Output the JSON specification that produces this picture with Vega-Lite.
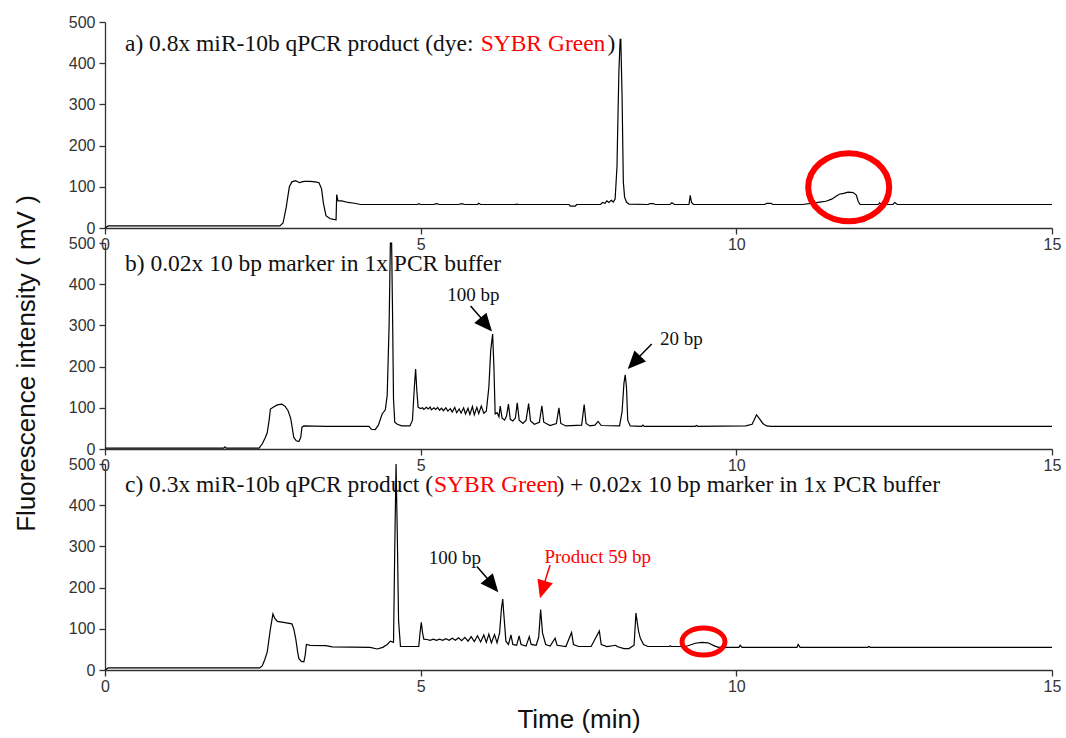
{
  "$schema": "https://vega.github.io/schema/vega-lite/v6.json",
  "padding": {"left": 13, "top": 14, "right": 5, "bottom": 5},
  "background": "white",
  "config": {
    "view": {"stroke": null},
    "axis": {"domainColor": "#333", "tickColor": "#333", "labelColor": "#333", "labelFont": "Liberation Sans", "labelFontSize": 16, "tickSize": 6, "grid": false, "titleFont": "Liberation Sans", "titleFontSize": 26, "titleFontWeight": "normal", "titleColor": "#111", "labelPadding": 4, "domainWidth": 1.3, "tickWidth": 1.3}
  },
  "spacing": 15,
  "bounds": "flush",
  "datasets": {
    "a": [
      {"t":0,"v":0},{"t":0.05,"v":5},{"t":2.77,"v":5},{"t":2.82,"v":12},{"t":2.87,"v":50},{"t":2.92,"v":100},{"t":2.96,"v":112},{"t":3.02,"v":115},{"t":3.08,"v":110},{"t":3.15,"v":113},{"t":3.25,"v":113},{"t":3.33,"v":112},{"t":3.39,"v":110},{"t":3.43,"v":95},{"t":3.46,"v":60},{"t":3.5,"v":30},{"t":3.56,"v":23},{"t":3.62,"v":21},{"t":3.66,"v":20},{"t":3.67,"v":81},{"t":3.69,"v":66},{"t":3.75,"v":66},{"t":3.85,"v":62},{"t":3.95,"v":60},{"t":4.05,"v":57},{"t":4.95,"v":57},{"t":4.97,"v":59},{"t":5.0,"v":57},{"t":5.2,"v":57},{"t":5.25,"v":59},{"t":5.3,"v":57},{"t":5.6,"v":57},{"t":5.65,"v":59},{"t":5.7,"v":57},{"t":5.9,"v":57},{"t":5.92,"v":60},{"t":5.95,"v":57},{"t":6.5,"v":57},{"t":6.52,"v":58},{"t":6.55,"v":57},{"t":7.35,"v":57},{"t":7.37,"v":53},{"t":7.45,"v":53},{"t":7.47,"v":57},{"t":7.85,"v":57},{"t":7.88,"v":62},{"t":7.92,"v":60},{"t":7.95,"v":66},{"t":7.98,"v":62},{"t":8.02,"v":67},{"t":8.05,"v":63},{"t":8.08,"v":70},{"t":8.11,"v":150},{"t":8.12,"v":233},{"t":8.14,"v":380},{"t":8.16,"v":458},{"t":8.17,"v":458},{"t":8.19,"v":322},{"t":8.21,"v":112},{"t":8.23,"v":75},{"t":8.26,"v":63},{"t":8.3,"v":58},{"t":8.6,"v":57},{"t":8.63,"v":59},{"t":8.68,"v":59},{"t":8.72,"v":57},{"t":8.95,"v":57},{"t":8.98,"v":61},{"t":9.02,"v":57},{"t":9.25,"v":57},{"t":9.27,"v":79},{"t":9.29,"v":62},{"t":9.32,"v":57},{"t":10.45,"v":57},{"t":10.48,"v":60},{"t":10.55,"v":60},{"t":10.58,"v":57},{"t":11.05,"v":57},{"t":11.15,"v":59},{"t":11.32,"v":63},{"t":11.42,"v":65},{"t":11.51,"v":70},{"t":11.58,"v":77},{"t":11.63,"v":82},{"t":11.7,"v":84},{"t":11.77,"v":87},{"t":11.85,"v":86},{"t":11.9,"v":80},{"t":11.93,"v":65},{"t":11.96,"v":57},{"t":12.25,"v":57},{"t":12.27,"v":61},{"t":12.3,"v":57},{"t":12.48,"v":57},{"t":12.51,"v":62},{"t":12.55,"v":57},{"t":15,"v":57}
    ],
    "b": [
      {"t":0,"v":2},{"t":1.88,"v":2},{"t":1.9,"v":5},{"t":1.92,"v":2},{"t":2.44,"v":2},{"t":2.49,"v":12},{"t":2.54,"v":28},{"t":2.57,"v":40},{"t":2.6,"v":70},{"t":2.62,"v":97},{"t":2.67,"v":102},{"t":2.73,"v":107},{"t":2.8,"v":109},{"t":2.85,"v":104},{"t":2.9,"v":93},{"t":2.94,"v":75},{"t":2.96,"v":57},{"t":2.99,"v":28},{"t":3.03,"v":20},{"t":3.07,"v":18},{"t":3.1,"v":28},{"t":3.12,"v":53},{"t":3.15,"v":56},{"t":3.5,"v":55},{"t":4.18,"v":55},{"t":4.22,"v":48},{"t":4.28,"v":47},{"t":4.33,"v":58},{"t":4.39,"v":85},{"t":4.44,"v":95},{"t":4.47,"v":130},{"t":4.5,"v":300},{"t":4.52,"v":500},{"t":4.54,"v":500},{"t":4.555,"v":324},{"t":4.57,"v":120},{"t":4.59,"v":65},{"t":4.63,"v":60},{"t":4.7,"v":56},{"t":4.83,"v":56},{"t":4.87,"v":70},{"t":4.9,"v":150},{"t":4.92,"v":194},{"t":4.94,"v":140},{"t":4.96,"v":101},{"t":5.0,"v":98},{"t":5.03,"v":100},{"t":5.05,"v":96},{"t":5.09,"v":101},{"t":5.12,"v":97},{"t":5.15,"v":102},{"t":5.17,"v":95},{"t":5.21,"v":100},{"t":5.24,"v":96},{"t":5.27,"v":101},{"t":5.3,"v":94},{"t":5.33,"v":99},{"t":5.36,"v":93},{"t":5.4,"v":100},{"t":5.43,"v":92},{"t":5.47,"v":98},{"t":5.5,"v":90},{"t":5.54,"v":101},{"t":5.57,"v":88},{"t":5.61,"v":97},{"t":5.64,"v":87},{"t":5.68,"v":100},{"t":5.71,"v":85},{"t":5.75,"v":99},{"t":5.78,"v":84},{"t":5.82,"v":103},{"t":5.85,"v":83},{"t":5.89,"v":101},{"t":5.92,"v":86},{"t":5.96,"v":104},{"t":6.0,"v":87},{"t":6.04,"v":92},{"t":6.08,"v":150},{"t":6.11,"v":240},{"t":6.14,"v":279},{"t":6.16,"v":200},{"t":6.18,"v":85},{"t":6.21,"v":88},{"t":6.24,"v":78},{"t":6.26,"v":104},{"t":6.29,"v":75},{"t":6.33,"v":70},{"t":6.36,"v":80},{"t":6.39,"v":109},{"t":6.42,"v":72},{"t":6.46,"v":68},{"t":6.5,"v":75},{"t":6.53,"v":112},{"t":6.56,"v":70},{"t":6.62,"v":62},{"t":6.67,"v":70},{"t":6.71,"v":110},{"t":6.74,"v":68},{"t":6.8,"v":60},{"t":6.88,"v":65},{"t":6.92,"v":105},{"t":6.95,"v":65},{"t":7.05,"v":57},{"t":7.15,"v":62},{"t":7.19,"v":100},{"t":7.22,"v":62},{"t":7.3,"v":56},{"t":7.55,"v":58},{"t":7.59,"v":108},{"t":7.62,"v":62},{"t":7.68,"v":56},{"t":7.76,"v":58},{"t":7.81,"v":67},{"t":7.86,"v":57},{"t":8.15,"v":56},{"t":8.19,"v":90},{"t":8.22,"v":160},{"t":8.24,"v":180},{"t":8.26,"v":150},{"t":8.28,"v":70},{"t":8.32,"v":56},{"t":8.5,"v":55},{"t":8.52,"v":58},{"t":8.54,"v":55},{"t":9.35,"v":55},{"t":9.37,"v":57},{"t":9.39,"v":55},{"t":10.15,"v":56},{"t":10.25,"v":60},{"t":10.32,"v":83},{"t":10.36,"v":75},{"t":10.42,"v":62},{"t":10.48,"v":56},{"t":10.55,"v":55},{"t":15,"v":55}
    ],
    "c": [
      {"t":0,"v":0},{"t":0.05,"v":5},{"t":2.45,"v":5},{"t":2.49,"v":10},{"t":2.53,"v":25},{"t":2.57,"v":44},{"t":2.62,"v":100},{"t":2.66,"v":136},{"t":2.69,"v":125},{"t":2.73,"v":118},{"t":2.85,"v":115},{"t":2.96,"v":112},{"t":2.99,"v":100},{"t":3.02,"v":77},{"t":3.05,"v":45},{"t":3.07,"v":28},{"t":3.11,"v":21},{"t":3.15,"v":20},{"t":3.17,"v":35},{"t":3.19,"v":62},{"t":3.25,"v":60},{"t":3.5,"v":59},{"t":3.6,"v":56},{"t":4.2,"v":55},{"t":4.31,"v":51},{"t":4.4,"v":55},{"t":4.47,"v":62},{"t":4.52,"v":70},{"t":4.57,"v":67},{"t":4.59,"v":300},{"t":4.61,"v":500},{"t":4.63,"v":328},{"t":4.65,"v":120},{"t":4.68,"v":57},{"t":4.97,"v":57},{"t":4.99,"v":90},{"t":5.01,"v":116},{"t":5.03,"v":90},{"t":5.05,"v":75},{"t":5.1,"v":74},{"t":5.15,"v":72},{"t":5.2,"v":75},{"t":5.25,"v":72},{"t":5.3,"v":75},{"t":5.35,"v":72},{"t":5.4,"v":76},{"t":5.45,"v":72},{"t":5.5,"v":77},{"t":5.55,"v":72},{"t":5.6,"v":78},{"t":5.65,"v":71},{"t":5.7,"v":79},{"t":5.75,"v":70},{"t":5.8,"v":81},{"t":5.85,"v":69},{"t":5.9,"v":83},{"t":5.95,"v":68},{"t":6.0,"v":85},{"t":6.04,"v":67},{"t":6.08,"v":87},{"t":6.12,"v":66},{"t":6.17,"v":86},{"t":6.21,"v":66},{"t":6.25,"v":90},{"t":6.28,"v":150},{"t":6.3,"v":172},{"t":6.32,"v":130},{"t":6.35,"v":70},{"t":6.39,"v":62},{"t":6.43,"v":85},{"t":6.46,"v":62},{"t":6.52,"v":60},{"t":6.56,"v":83},{"t":6.59,"v":62},{"t":6.67,"v":58},{"t":6.72,"v":81},{"t":6.75,"v":62},{"t":6.83,"v":60},{"t":6.87,"v":80},{"t":6.9,"v":147},{"t":6.93,"v":90},{"t":6.98,"v":62},{"t":7.05,"v":58},{"t":7.13,"v":77},{"t":7.16,"v":60},{"t":7.3,"v":57},{"t":7.39,"v":91},{"t":7.42,"v":62},{"t":7.5,"v":57},{"t":7.7,"v":57},{"t":7.83,"v":95},{"t":7.86,"v":62},{"t":7.95,"v":57},{"t":8.09,"v":60},{"t":8.11,"v":57},{"t":8.22,"v":52},{"t":8.3,"v":52},{"t":8.38,"v":60},{"t":8.41,"v":138},{"t":8.45,"v":95},{"t":8.48,"v":77},{"t":8.53,"v":62},{"t":8.6,"v":57},{"t":8.94,"v":57},{"t":8.95,"v":59},{"t":8.97,"v":57},{"t":9.2,"v":57},{"t":9.35,"v":65},{"t":9.45,"v":67},{"t":9.55,"v":66},{"t":9.66,"v":58},{"t":9.72,"v":55},{"t":10.04,"v":55},{"t":10.06,"v":60},{"t":10.09,"v":55},{"t":10.96,"v":55},{"t":10.98,"v":62},{"t":11.01,"v":55},{"t":12.08,"v":55},{"t":12.1,"v":57},{"t":12.12,"v":55},{"t":15,"v":55}
    ]
  },
  "vconcat": [
    {
      "width": 947, "height": 206,
      "encoding": {
        "x": {"field": "t", "type": "quantitative", "scale": {"domain": [0, 15], "nice": false}, "axis": {"values": [0, 5, 10, 15], "title": null, "labelFlush": false, "labelPadding": 2}},
        "y": {"field": "v", "type": "quantitative", "scale": {"domain": [0, 500], "nice": false}, "axis": {"values": [0, 100, 200, 300, 400, 500], "title": null}}
      },
      "layer": [
        {"data": {"name": "a"}, "mark": {"type": "line", "color": "#000", "strokeWidth": 1.2, "interpolate": "linear"}},
        {"data": {"values": [{"t": 0.316, "v": 447, "s": "a) 0.8x miR-10b  qPCR product (dye:"}, {"t": 7.96, "v": 447, "s": ")"}]}, "mark": {"type": "text", "align": "left", "baseline": "middle", "font": "Liberation Serif", "fontSize": 23.5, "color": "#111"}, "encoding": {"text": {"field": "s"}}},
        {"data": {"values": [{"t": 5.95, "v": 447, "s": "SYBR Green"}]}, "mark": {"type": "text", "align": "left", "baseline": "middle", "font": "Liberation Serif", "fontSize": 23.5, "color": "#ff0000"}, "encoding": {"text": {"field": "s"}}},
        {"data": {"values": [{"t": 11.78, "v": 99}]}, "mark": {"type": "point", "shape": "M1,0 C1,0.464 0.552,0.84 0,0.84 C-0.552,0.84 -1,0.464 -1,0 C-1,-0.464 -0.552,-0.84 0,-0.84 C0.552,-0.84 1,-0.464 1,0 Z", "size": 6561, "filled": false, "stroke": "#ff0000", "strokeWidth": 6, "opacity": 1}}
      ]
    },
    {
      "width": 947, "height": 206,
      "encoding": {
        "x": {"field": "t", "type": "quantitative", "scale": {"domain": [0, 15], "nice": false}, "axis": {"values": [0, 5, 10, 15], "title": null, "labelFlush": false, "labelPadding": 2}},
        "y": {"field": "v", "type": "quantitative", "scale": {"domain": [0, 500], "nice": false}, "axis": {"values": [0, 100, 200, 300, 400, 500], "title": "Fluorescence intensity ( mV )", "titleY": 120, "titlePadding": 29}}
      },
      "layer": [
        {"data": {"name": "b"}, "mark": {"type": "line", "color": "#000", "strokeWidth": 1.2, "interpolate": "linear"}},
        {"data": {"values": [{"t": 0.316, "v": 450, "s": "b) 0.02x 10 bp marker in 1x PCR buffer"}]}, "mark": {"type": "text", "align": "left", "baseline": "middle", "font": "Liberation Serif", "fontSize": 23.5, "color": "#111"}, "encoding": {"text": {"field": "s"}}},
        {"data": {"values": [{"t": 5.42, "v": 373, "s": "100 bp"}, {"t": 8.79, "v": 267, "s": "20 bp"}]}, "mark": {"type": "text", "align": "left", "baseline": "middle", "font": "Liberation Serif", "fontSize": 19, "color": "#111"}, "encoding": {"text": {"field": "s"}}},
        {"data": {"values": [{"t": 5.79, "v": 347, "t2": 6.1, "v2": 293}, {"t": 8.66, "v": 255, "t2": 8.31, "v2": 200}]}, "mark": {"type": "rule", "color": "#000", "strokeWidth": 1.5}, "encoding": {"x2": {"field": "t2"}, "y2": {"field": "v2"}}},
        {"data": {"values": [{"t": 6.13, "v": 285}]}, "mark": {"type": "point", "shape": "M0,0 L-0.8,-1.8 L0.8,-1.8 Z", "size": 400, "filled": true, "color": "#000", "opacity": 1, "angle": 319.5}},
        {"data": {"values": [{"t": 8.28, "v": 194}]}, "mark": {"type": "point", "shape": "M0,0 L-0.8,-1.8 L0.8,-1.8 Z", "size": 400, "filled": true, "color": "#000", "opacity": 1, "angle": 43.8}}
      ]
    },
    {
      "width": 947, "height": 206,
      "encoding": {
        "x": {"field": "t", "type": "quantitative", "scale": {"domain": [0, 15], "nice": false}, "axis": {"values": [0, 5, 10, 15], "title": "Time (min)", "labelFlush": false, "labelPadding": 2, "titlePadding": 12}},
        "y": {"field": "v", "type": "quantitative", "scale": {"domain": [0, 500], "nice": false}, "axis": {"values": [0, 100, 200, 300, 400, 500], "title": null}}
      },
      "layer": [
        {"data": {"name": "c"}, "mark": {"type": "line", "color": "#000", "strokeWidth": 1.2, "interpolate": "linear"}},
        {"data": {"values": [{"t": 0.316, "v": 450, "s": "c) 0.3x miR-10b  qPCR product ("}, {"t": 7.15, "v": 450, "s": ") + 0.02x 10 bp marker in 1x PCR buffer"}]}, "mark": {"type": "text", "align": "left", "baseline": "middle", "font": "Liberation Serif", "fontSize": 23.5, "color": "#111"}, "encoding": {"text": {"field": "s"}}},
        {"data": {"values": [{"t": 5.21, "v": 450, "s": "SYBR Green"}]}, "mark": {"type": "text", "align": "left", "baseline": "middle", "font": "Liberation Serif", "fontSize": 23.5, "color": "#ff0000"}, "encoding": {"text": {"field": "s"}}},
        {"data": {"values": [{"t": 5.13, "v": 273, "s": "100 bp"}]}, "mark": {"type": "text", "align": "left", "baseline": "middle", "font": "Liberation Serif", "fontSize": 19, "color": "#111"}, "encoding": {"text": {"field": "s"}}},
        {"data": {"values": [{"t": 6.96, "v": 275, "s": "Product 59 bp"}]}, "mark": {"type": "text", "align": "left", "baseline": "middle", "font": "Liberation Serif", "fontSize": 19, "color": "#ff0000"}, "encoding": {"text": {"field": "s"}}},
        {"data": {"values": [{"t": 5.89, "v": 251, "t2": 6.2, "v2": 197}]}, "mark": {"type": "rule", "color": "#000", "strokeWidth": 1.5}, "encoding": {"x2": {"field": "t2"}, "y2": {"field": "v2"}}},
        {"data": {"values": [{"t": 7.05, "v": 255, "t2": 6.9, "v2": 182}]}, "mark": {"type": "rule", "color": "#ff0000", "strokeWidth": 1.5}, "encoding": {"x2": {"field": "t2"}, "y2": {"field": "v2"}}},
        {"data": {"values": [{"t": 6.23, "v": 189}]}, "mark": {"type": "point", "shape": "M0,0 L-0.8,-1.8 L0.8,-1.8 Z", "size": 400, "filled": true, "color": "#000", "opacity": 1, "angle": 319.8}},
        {"data": {"values": [{"t": 6.89, "v": 174}]}, "mark": {"type": "point", "shape": "M0,0 L-0.8,-1.8 L0.8,-1.8 Z", "size": 400, "filled": true, "color": "#ff0000", "opacity": 1, "angle": 16.7}},
        {"data": {"values": [{"t": 9.48, "v": 69}]}, "mark": {"type": "point", "shape": "M1,0 C1,0.348 0.552,0.63 0,0.63 C-0.552,0.63 -1,0.348 -1,0 C-1,-0.348 -0.552,-0.63 0,-0.63 C0.552,-0.63 1,-0.348 1,0 Z", "size": 1849, "filled": false, "stroke": "#ff0000", "strokeWidth": 5, "opacity": 1}}
      ]
    }
  ]
}
